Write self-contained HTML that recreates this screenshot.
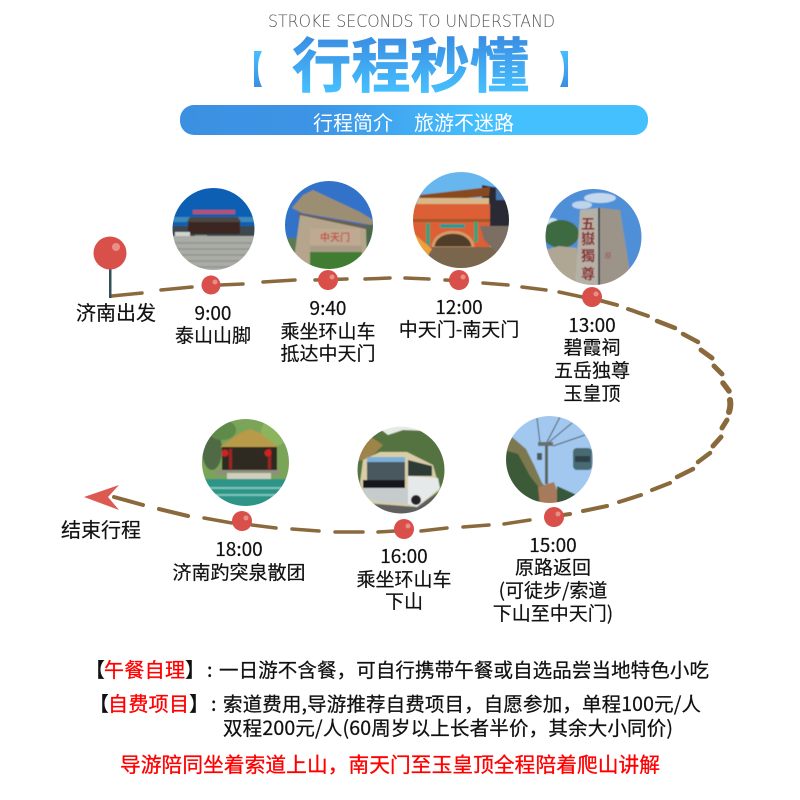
<!DOCTYPE html>
<html lang="zh"><head><meta charset="utf-8"><title>行程秒懂</title>
<style>
html,body{margin:0;padding:0;background:#fff}
svg{display:block}
text{font-family:"Noto Sans CJK SC","Liberation Sans",sans-serif}
.l{font-size:19px;fill:#111;text-anchor:middle;stroke:#111;stroke-width:.2px}
.f{font-size:19.5px;fill:#111;stroke:#111;stroke-width:.25px}
.b{font-size:20px;fill:#111;font-weight:700}
.r{font-size:20px;fill:#f00;stroke:#f00;stroke-width:.3px}
</style></head><body>
<svg width="800" height="800" viewBox="0 0 800 800" xmlns="http://www.w3.org/2000/svg">
<defs>
<linearGradient id="tg" gradientUnits="userSpaceOnUse" x1="0" y1="37" x2="0" y2="93"><stop offset="0" stop-color="#3b8ee2"/><stop offset="1" stop-color="#45c0ff"/></linearGradient>
<linearGradient id="bg" x1="0" y1="0" x2="0" y2="1"><stop offset="0" stop-color="#45c0ff"/><stop offset="1" stop-color="#3b8ee2"/></linearGradient>
<linearGradient id="pg" x1="0" y1="0" x2="1" y2="0"><stop offset="0" stop-color="#3c90e2"/><stop offset=".3" stop-color="#3d95e6"/><stop offset=".65" stop-color="#45c0ff"/><stop offset="1" stop-color="#45c0ff"/></linearGradient>
<filter id="s" x="-5%" y="-5%" width="110%" height="110%"><feGaussianBlur stdDeviation=".6"/></filter>
<clipPath id="c1"><circle cx="213.5" cy="229" r="41"/></clipPath>
<clipPath id="c2"><circle cx="329" cy="225" r="44"/></clipPath>
<clipPath id="c3"><circle cx="461" cy="220" r="48"/></clipPath>
<clipPath id="c4"><circle cx="593.5" cy="237" r="48"/></clipPath>
<clipPath id="c5"><circle cx="549.5" cy="459.5" r="43.5"/></clipPath>
<clipPath id="c6"><circle cx="401" cy="470" r="43.5"/></clipPath>
<clipPath id="c7"><circle cx="245.5" cy="462.5" r="43.5"/></clipPath>
</defs>
<rect width="800" height="800" fill="#fff"/>

<text x="268" y="27" font-size="16.5" fill="#555" textLength="287" lengthAdjust="spacingAndGlyphs" style="font-family:'DejaVu Sans','Liberation Sans',sans-serif;font-weight:200">STROKE SECONDS TO UNDERSTAND</text>
<text x="292" y="87" font-size="59" font-weight="700" fill="url(#tg)" stroke="url(#tg)" stroke-width=".8" textLength="237" lengthAdjust="spacingAndGlyphs">行程秒懂</text>
<path d="M254 51h8c-3 6-4 11-4 17.500s1 12 4 18.500h-8z" fill="url(#bg)"/>
<path d="M568 51h-8c3 6 4 11 4 17.500s-1 12-4 18.500h8z" fill="url(#bg)"/>
<rect x="180" y="105" width="468" height="30" rx="14" fill="url(#pg)"/>
<text x="313" y="130" font-size="20" fill="#fff">行程简介</text>
<text x="414" y="130" font-size="20" fill="#fff">旅游不迷路</text>

<!-- photo 1 -->
<g clip-path="url(#c1)"><g filter="url(#s)">
<rect x="170" y="186" width="90" height="50" fill="#0c5fb4"/>
<rect x="170" y="217" width="90" height="5" fill="#3a8ab8"/>
<rect x="193" y="210" width="42" height="4" fill="#b8506e"/>
<rect x="172" y="226" width="84" height="10" fill="#3e464e"/>
<path d="M187 222l3-5h48l3 5z" fill="#4c4642"/>
<rect x="188" y="222" width="52" height="12" fill="#3a2624"/>
<rect x="175" y="232" width="15" height="8" fill="#d2d4d4"/>
<rect x="195" y="235" width="12" height="6" fill="#8a8f8a"/>
<path d="M170 236h90v36h-90z" fill="#aaaca6"/>
<path d="M172 243h84M172 249h84M172 255h84M172 261h84M172 267h84" stroke="#90938e" stroke-width="1.500"/>
</g></g>
<!-- photo 2 -->
<g clip-path="url(#c2)"><g filter="url(#s)">
<rect x="284" y="180" width="90" height="90" fill="#3272c8"/>
<rect x="362" y="225" width="14" height="25" fill="#4a6a48"/>
<rect x="284" y="238" width="14" height="34" fill="#5a7a50"/>
<path d="M292 208l11-13 10-5 47 22 13 8-1 5-70-12z" fill="#9c8e72"/>
<path d="M298 213l72 13v3l-72-12z" fill="#6b5f4a"/>
<path d="M300 215l66 14 1 36h-6v-12h-50v20h-15l-2-14z" fill="#b5a58c"/>
<rect x="310" y="229" width="50" height="16" fill="#bfa992"/>
<text x="335" y="241" font-size="10" fill="#c05a4a" text-anchor="middle" font-weight="700">中天门</text>
<rect x="310" y="246" width="52" height="6" fill="#a99c86"/>
<rect x="310" y="252" width="52" height="20" fill="#3f7d33"/>
</g></g>
<!-- photo 3 -->
<g clip-path="url(#c3)"><g filter="url(#s)">
<rect x="412" y="170" width="100" height="60" fill="#68b6ee"/>
<path d="M482 185l28 5v40h-28z" fill="#2a2c34"/>
<path d="M496 176l16 10v14h-16z" fill="#4a78b0"/>
<path d="M420 195l70-8-1 9-70 6z" fill="#8a4a1e"/>
<rect x="417" y="198" width="72" height="6" fill="#d8b888"/>
<rect x="412" y="204" width="78" height="44" fill="#dc5e36"/>
<rect x="412" y="219" width="78" height="3" fill="#a4582a"/>
<rect x="440" y="224" width="25" height="4" fill="#2a9a90"/>
<rect x="426" y="223" width="4" height="22" fill="#3ea078"/>
<rect x="474" y="222" width="4" height="20" fill="#3ea078"/>
<path d="M433 248c0-21 40-21 40 0z" fill="#4f3e2c" stroke="#d89a68" stroke-width="3"/>
<rect x="412" y="247" width="100" height="26" fill="#7a664e"/>
<path d="M412 232l20 17-5 8h-15z" fill="#eea03e"/>
<path d="M480 226h32v18l-8 10h-6l-14-14z" fill="#7b6e64"/>
</g></g>
<!-- photo 4 -->
<g clip-path="url(#c4)"><g filter="url(#s)">
<rect x="544" y="188" width="100" height="100" fill="#4f8fd8"/>
<ellipse cx="600" cy="198" rx="16" ry="5" fill="#c3d8ee"/>
<ellipse cx="582" cy="205" rx="10" ry="4" fill="#bcd4ec"/>
<ellipse cx="552" cy="222" rx="6" ry="4" fill="#cfe0f0"/>
<ellipse cx="561" cy="234" rx="18" ry="14" fill="#3e6a40"/>
<path d="M545 250l14-4 18 2v40h-32z" fill="#b0a694"/>
<path d="M580 210l18-2 1 78h-24z" fill="#b6b1a6"/>
<path d="M600 208l20 2 9 56 0 24h-29z" fill="#9c9488"/>
<path d="M599 208v78" stroke="#35302c" stroke-width="1.500"/>
<text x="588" y="229" font-size="14" font-weight="700" fill="#8a2a30" text-anchor="middle">五</text>
<text x="588" y="244" font-size="14" font-weight="700" fill="#8a2a30" text-anchor="middle">嶽</text>
<text x="588" y="261" font-size="14" font-weight="700" fill="#8a2a30" text-anchor="middle">獨</text>
<text x="588" y="279" font-size="14" font-weight="700" fill="#8a2a30" text-anchor="middle">尊</text>
<text x="608" y="258" font-size="7" fill="#a04a50" text-anchor="middle">原</text>
</g></g>
<!-- photo 5 -->
<g clip-path="url(#c5)"><g filter="url(#s)">
<rect x="504" y="414" width="92" height="92" fill="#a2c8f0"/>
<path d="M504 437l8 0 14 12 8 16 8 18 18 18 6 6h-62z" fill="#7c7850"/>
<path d="M504 450l14 4 12 22 14 18-4 12h-36z" fill="#3c5a38"/>
<path d="M538 487l16-5 8 22-22 2z" fill="#a67a5a"/>
<path d="M557 486l22 10-6 10h-16z" fill="#38583c"/>
<path d="M537 418l3 25M560 417l-13 25M572 423l-24 20M585 435l-32 11" stroke="#555" stroke-width="1"/>
<rect x="545" y="443" width="3" height="41" fill="#5a6460"/>
<rect x="538" y="442" width="15" height="4" fill="#66706c"/>
<rect x="573" y="448" width="19" height="22" rx="4" fill="#4a6a72"/>
<rect x="575" y="456" width="15" height="6" fill="#2f3f48"/>
<rect x="537" y="453" width="5" height="7" fill="#4c5a60"/>
</g></g>
<!-- photo 6 -->
<g clip-path="url(#c6)"><g filter="url(#s)">
<rect x="356" y="425" width="90" height="90" fill="#55733f"/>
<path d="M375 425h50l6 6-28-1-15 5z" fill="#e6ece4"/>
<path d="M356 445l15-8 12 8-14 14-13 2z" fill="#9f8448"/>
<rect x="356" y="497" width="90" height="18" fill="#5e5e60"/>
<path d="M363 460l17-8h27l26 13 7 25-23 17-52-4-5-20z" fill="#d9cda8"/>
<path d="M367 458h38v30h-38z" fill="#48585f"/>
<rect x="367" y="457" width="38" height="5" fill="#7ab0d8"/>
<rect x="363" y="480" width="42" height="8" fill="#17191b"/>
<path d="M408 460l24 6v10h-24z" fill="#2f3a36"/>
<path d="M363 488h45v16l-30-2-15-6z" fill="#c6ccce"/>
<path d="M408 476l30 2 2 10-23 19-9-3z" fill="#e6e9ea"/>
<circle cx="416" cy="500" r="5" fill="#222"/>
</g></g>
<!-- photo 7 -->
<g clip-path="url(#c7)"><g filter="url(#s)">
<rect x="200" y="417" width="92" height="64" fill="#7aa458"/>
<ellipse cx="212" cy="450" rx="10" ry="20" fill="#4f6a44"/>
<ellipse cx="222" cy="430" rx="14" ry="10" fill="#5f8a48"/>
<ellipse cx="275" cy="432" rx="14" ry="14" fill="#8cb45e"/>
<path d="M220 447l20-14 10-4 10 4 18 14z" fill="#b89a4a"/>
<rect x="222" y="447" width="55" height="24" fill="#2e2a22"/>
<rect x="229" y="449" width="3" height="20" fill="#a02020"/>
<rect x="268" y="449" width="3" height="20" fill="#a02020"/>
<circle cx="225" cy="453" r="3.500" fill="#d02020"/>
<circle cx="268" cy="453" r="3.500" fill="#d02020"/>
<rect x="215" y="470" width="65" height="5" fill="#8e907c"/>
<rect x="227" y="473" width="44" height="7" fill="#d0cebc"/>
<rect x="200" y="479" width="92" height="30" fill="#2f9488"/>
<path d="M206 488h80M215 495h62" stroke="#7ac4b8" stroke-width="2"/>
</g></g>

<!-- dashed route -->
<g fill="none" stroke="#8a6a3c" stroke-linecap="round" stroke-width="3.500">
<path d="M112 296L142 293M161 290L192 287M220 285L243 284M263 282L295 280M315 280L347 279M365 279L390 278M405 278L429 279M445 280L467 281M483 283L508 285M522 287L546 290M559 292L587 298"/>
<path d="M602 301L617 305M628 309L648 316" stroke-width="4"/>
<path d="M657 321L675 328M683 334L698 342" stroke-width="4.500"/>
<path d="M701 350L712 358M714 366L722 374" stroke-width="5"/>
<path d="M723 383L729 391" stroke-width="5.500"/>
<path d="M730 400Q731 406 729 412" stroke-width="6"/>
<path d="M727 420L722 428M721 437L713 446" stroke-width="5"/>
<path d="M710 453L698 462M693 469L677 477" stroke-width="4.500"/>
<path d="M670 483L652 490M641 495L619 502M607 506L583 511M570 514L563 515" stroke-width="4"/>
<path d="M530 520L504 524M489 525L463 527M447 528L421 531M395 531L378 532M363 532L335 532M319 531L292 529M276 528L252 525M232 523L204 518" stroke-width="3.500"/>
<path d="M188 516L159 509M143 505L114 497" stroke-width="4"/>
</g>
<path d="M84 497L119 485L108 497L119 510Z" fill="#dc5a52"/>

<!-- pin + dots -->
<rect x="109" y="266" width="2.500" height="32" fill="#33505a"/>
<circle cx="110" cy="253" r="16.500" fill="#d94f4a"/>
<circle cx="116" cy="247" r="4" fill="#e78f88"/>
<g fill="#d94f4a">
<circle cx="211" cy="285" r="9.500"/><circle cx="328" cy="280" r="10"/><circle cx="459" cy="280" r="10"/><circle cx="592" cy="297" r="10"/><circle cx="554" cy="517" r="10"/><circle cx="404" cy="529" r="10"/><circle cx="242" cy="521" r="10"/>
</g>
<g fill="#e78f88">
<circle cx="215" cy="282" r="2.500"/><circle cx="332" cy="277" r="2.500"/><circle cx="463" cy="277" r="2.500"/><circle cx="596" cy="294" r="2.500"/><circle cx="558" cy="514" r="2.500"/><circle cx="408" cy="526" r="2.500"/><circle cx="246" cy="518" r="2.500"/>
</g>

<!-- labels -->
<text class="l" x="116" y="320" style="font-size:20px">济南出发</text>
<text class="l" x="213" y="320">9:00</text><text class="l" x="213" y="342">泰山山脚</text>
<text class="l" x="328" y="315">9:40</text><text class="l" x="328" y="338">乘坐环山车</text><text class="l" x="328" y="360">抵达中天门</text>
<text class="l" x="459" y="314">12:00</text><text class="l" x="459" y="336">中天门-南天门</text>
<text class="l" x="592" y="332">13:00</text><text class="l" x="592" y="354">碧霞祠</text><text class="l" x="592" y="377">五岳独尊</text><text class="l" x="592" y="400">玉皇顶</text>
<text class="l" x="553" y="552">15:00</text><text class="l" x="553" y="574">原路返回</text><text class="l" x="553" y="597">(可徒步/索道</text><text class="l" x="553" y="620">下山至中天门)</text>
<text class="l" x="404" y="563">16:00</text><text class="l" x="404" y="586">乘坐环山车</text><text class="l" x="404" y="608">下山</text>
<text class="l" x="239" y="556">18:00</text><text class="l" x="239" y="579">济南趵突泉散团</text>
<text class="l" x="101" y="537" style="font-size:20px">结束行程</text>

<!-- footer -->
<text class="b" x="85" y="677">【</text><text class="r" x="104" y="677" textLength="81">午餐自理</text><text class="b" x="185" y="677">】</text>
<text class="f" x="207" y="677">:</text><text class="f" x="219" y="677" textLength="490">一日游不含餐，可自行携带午餐或自选品尝当地特色小吃</text>
<text class="b" x="89" y="711">【</text><text class="r" x="108" y="711" textLength="81">自费项目</text><text class="b" x="189" y="711">】</text>
<text class="f" x="211" y="711">:</text><text class="f" x="223" y="711" textLength="478">索道费用,导游推荐自费项目，自愿参加，单程100元/人</text>
<text class="f" x="223" y="735" textLength="450">双程200元/人(60周岁以上长者半价，其余大小同价)</text>
<text class="r" x="120" y="772" style="font-size:20.700px" textLength="540">导游陪同坐着索道上山，南天门至玉皇顶全程陪着爬山讲解</text>
</svg>
</body></html>
